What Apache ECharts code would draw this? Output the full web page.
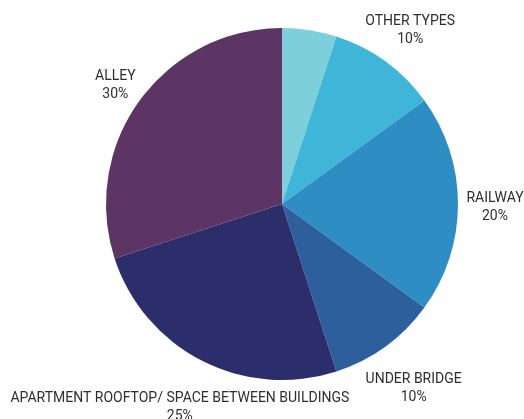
<!DOCTYPE html>
<html>
<head>
<meta charset="utf-8">
<script src="https://cdn.jsdelivr.net/npm/echarts@6/dist/echarts.min.js"></script>
<style>
  html, body { margin: 0; padding: 0; background: #ffffff; }
  #chart { width: 524px; height: 419px; }
</style>
</head>
<body>
<div id="chart"></div>
<script>
// Share of each location type (percent), clockwise from 12 o'clock
const categories = ['', 'OTHER TYPES', 'RAILWAY', 'UNDER BRIDGE', 'APARTMENT ROOFTOP/ SPACE BETWEEN BUILDINGS', 'ALLEY'];
const shares = [5, 10, 20, 10, 25, 30];
const sliceColors = ['#7dcfdc', '#3fb5d7', '#2e8ec3', '#2d5f9c', '#2c2e6b', '#5d3565'];

const PIE_CENTER = [282, 204];
const PIE_RADIUS = 176;

// distance from the rim (along the slice's middle) to the centre of its label block
const labelGap = {
  'OTHER TYPES': 42,
  'RAILWAY': 37,
  'UNDER BRIDGE': 48,
  'APARTMENT ROOFTOP/ SPACE BETWEEN BUILDINGS': 49,
  'ALLEY': 30
};
// rich-text blocks sit slightly high when middle-aligned
const LABEL_DROP = 3;

const chart = echarts.init(document.getElementById('chart'), null, { renderer: 'canvas' });

chart.setOption({
  animation: false,
  backgroundColor: '#ffffff',
  series: [{
    type: 'pie',
    center: PIE_CENTER,
    radius: PIE_RADIUS,
    startAngle: 90,
    clockwise: true,
    silent: true,
    data: categories.map((name, i) => ({
      name: name,
      value: shares[i],
      itemStyle: { color: sliceColors[i] },
      label: { show: name !== '' }
    })),
    itemStyle: { borderWidth: 0 },
    label: {
      position: 'outside',
      overflow: 'none',
      formatter: '{t|{b}}\n{t|{d}%}',
      color: '#2e2e2e',
      fontFamily: 'Roboto',
      fontSize: 14,
      rich: {
        t: { align: 'center', fontFamily: 'Roboto', fontSize: 14, color: '#2e2e2e', lineHeight: 18 }
      }
    },
    labelLine: { show: true, length: 10, length2: 0, lineStyle: { opacity: 0 } },
    // centre each label on the slice's middle direction, a little outside the rim
    labelLayout: function (params) {
      const pts = params.labelLinePoints;
      if (!pts) return {};
      const dx = pts[0][0] - PIE_CENTER[0];
      const dy = pts[0][1] - PIE_CENTER[1];
      const len = Math.sqrt(dx * dx + dy * dy) || 1;
      const gap = labelGap[categories[params.dataIndex]] || 40;
      const dist = PIE_RADIUS + gap;
      return {
        x: PIE_CENTER[0] + dx / len * dist,
        y: PIE_CENTER[1] + dy / len * dist + LABEL_DROP,
        align: 'center',
        verticalAlign: 'middle'
      };
    }
  }]
});
</script>
</body>
</html>
